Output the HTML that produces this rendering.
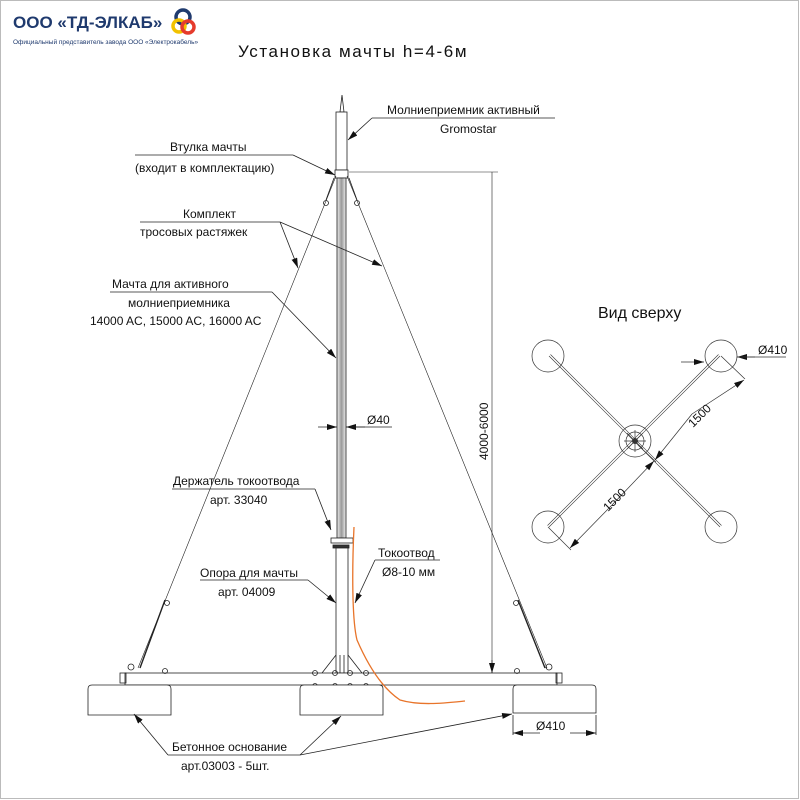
<!DOCTYPE html>
<html><head><meta charset="utf-8"><style>
html,body{margin:0;padding:0;background:#fff}
svg{display:block}
text{font-family:"Liberation Sans","Noto Sans CJK SC",sans-serif;fill:#111}
</style></head><body>
<svg width="800" height="800" viewBox="0 0 800 800" xmlns="http://www.w3.org/2000/svg">
<defs>
<marker id="a" viewBox="0 0 10 6" refX="10" refY="3" markerWidth="10" markerHeight="6" orient="auto" markerUnits="userSpaceOnUse"><path d="M0,0L10,3L0,6z" fill="#111"/></marker>
<linearGradient id="g" x1="0" x2="1"><stop offset="0" stop-color="#eee"/><stop offset=".5" stop-color="#999"/><stop offset="1" stop-color="#eee"/></linearGradient>
</defs>
<rect x="0.5" y="0.5" width="798" height="798" fill="none" stroke="#bbb"/>
<text x="13" y="28" font-size="17" font-weight="bold" style="fill:#1f3a6e">ООО «ТД-ЭЛКАБ»</text>
<text x="13" y="44" font-size="6.5" style="fill:#1f3a6e">Официальный представитель завода ООО «Электрокабель»</text>
<circle cx="183" cy="17" r="7" fill="none" stroke="#1f3a6e" stroke-width="3.5"/>
<circle cx="179" cy="26" r="6" fill="none" stroke="#f2c200" stroke-width="3.5"/>
<circle cx="188" cy="27" r="6" fill="none" stroke="#e53b2c" stroke-width="3.5"/>
<text x="238" y="57" font-size="17" letter-spacing="1.5" textLength="230">Установка мачты h=4-6м</text>
<g stroke="#222" stroke-width="0.8" fill="none">
<path d="M342,95 L340,112 L344,112 Z" fill="#fff"/>
<rect x="336" y="112" width="11" height="58" fill="#fff"/>
<rect x="335" y="170" width="13" height="8" fill="#fff"/>
<rect x="337" y="178" width="9" height="360" fill="url(#g)"/>
<rect x="331" y="538" width="22" height="5" fill="#fff"/>
<rect x="333" y="545" width="16" height="3" fill="#333"/>
<rect x="336" y="548" width="12" height="125" fill="#fff"/>
<path d="M336,655 L322,673 M348,655 L362,673 M340,655 V680 M344,655 V680"/>
<path d="M336,176 L138,668 M347,176 L547,668" stroke-width="0.6"/>
<path d="M334,178 L326,200 M349,178 L357,200"/>
<circle cx="326" cy="203" r="2.5"/><circle cx="357" cy="203" r="2.5"/>
<path d="M165,600 L140,668 M518,600 L545,668" stroke-width="1.4"/>
<circle cx="167" cy="603" r="2.5"/><circle cx="516" cy="603" r="2.5"/>
<rect x="125" y="673" width="432" height="12" fill="#fff"/>
<rect x="120" y="673" width="6" height="10"/><rect x="556" y="673" width="6" height="10"/>
<circle cx="131" cy="667" r="3"/><circle cx="549" cy="667" r="3"/>
<circle cx="165" cy="671" r="2.5"/><circle cx="517" cy="671" r="2.5"/>
<circle cx="315" cy="673" r="2.5"/><circle cx="335" cy="673" r="2.5"/><circle cx="350" cy="673" r="2.5"/><circle cx="366" cy="673" r="2.5"/>
<circle cx="315" cy="686" r="2.5"/><circle cx="335" cy="686" r="2.5"/><circle cx="350" cy="686" r="2.5"/><circle cx="366" cy="686" r="2.5"/>
<path d="M88,715 V689 Q88,685 92,685 H167 Q171,685 171,689 V715 Z" fill="#fff"/>
<path d="M300,715 V689 Q300,685 304,685 H379 Q383,685 383,689 V715 Z" fill="#fff"/>
<path d="M513,713 V689 Q513,685 517,685 H592 Q596,685 596,689 V713 Z" fill="#fff"/>
<path d="M513,715 V735 M596,715 V735"/>
<path d="M540,733 L513,733" marker-end="url(#a)"/><path d="M570,733 L596,733" marker-end="url(#a)"/>
<path d="M349,172 H498 M492,172 V673" stroke-width="0.6"/>
<path d="M492,660 V673" marker-end="url(#a)"/>
<path d="M372,118 H555"/>
<path d="M372,118 L348,140" marker-end="url(#a)"/>
<path d="M135,155 H293"/><path d="M293,155 L335,175" marker-end="url(#a)"/>
<path d="M140,222 H280"/>
<path d="M280,222 L298,268" marker-end="url(#a)"/><path d="M280,222 L382,266" marker-end="url(#a)"/>
<path d="M110,292 H272"/><path d="M272,292 L336,358" marker-end="url(#a)"/>
<path d="M318,427 H337" marker-end="url(#a)"/><path d="M365,427 H346" marker-end="url(#a)"/><path d="M346,427 H392"/>
<path d="M172,489 H315"/><path d="M315,489 L331,530" marker-end="url(#a)"/>
<path d="M200,580 H308"/><path d="M308,580 L336,603" marker-end="url(#a)"/>
<path d="M440,560 H375"/><path d="M375,560 L355,603" marker-end="url(#a)"/>
<path d="M168,755 H300"/>
<path d="M168,755 L134,714" marker-end="url(#a)"/><path d="M300,755 L341,716" marker-end="url(#a)"/><path d="M300,755 L512,714" marker-end="url(#a)"/>
</g>
<path d="M354,527 C352,570 352,620 357,640 C370,670 385,690 400,700 C420,706 445,703 465,701" stroke="#e8742a" stroke-width="1.3" fill="none"/>
<g stroke="#333" stroke-width="0.7" fill="none">
<circle cx="548" cy="356" r="16"/><circle cx="721" cy="356" r="16"/>
<circle cx="548" cy="527" r="16"/><circle cx="721" cy="527" r="16"/>
<circle cx="635" cy="441" r="16"/><circle cx="635" cy="441" r="9"/>
<path d="M549,356 L720,527 M550.5,354.5 L721.5,525.5 M549,527 L720,356 M547.5,525.5 L718.5,354.5" stroke-width="0.6"/>
<path d="M624,441 H646 M635,430 V452 M627,433 L643,449 M643,433 L627,449"/>
<path d="M681,362 H704" marker-end="url(#a)"/><path d="M755,357 H737" marker-end="url(#a)"/><path d="M737,357 H786"/>
<path d="M721,356 L745,379 M638,445 L656,462 M548,527 L571,550"/>
<path d="M692,414 L744,380" marker-end="url(#a)"/><path d="M692,414 L655,460" marker-end="url(#a)"/>
<path d="M612,505 L654,461" marker-end="url(#a)"/><path d="M612,505 L570,548" marker-end="url(#a)"/>
</g>
<circle cx="635" cy="441" r="3" fill="#333"/>
<g font-size="12">
<text x="387" y="114">Молниеприемник активный</text>
<text x="440" y="133">Gromostar</text>
<text x="170" y="151">Втулка мачты</text>
<text x="135" y="172">(входит в комплектацию)</text>
<text x="183" y="218">Комплект</text>
<text x="140" y="236">тросовых растяжек</text>
<text x="112" y="288">Мачта для активного</text>
<text x="128" y="307">молниеприемника</text>
<text x="90" y="325">14000 AC, 15000 AC, 16000 AC</text>
<text x="367" y="424">Ø40</text>
<text x="173" y="485">Держатель токоотвода</text>
<text x="210" y="504">арт. 33040</text>
<text x="200" y="577">Опора для мачты</text>
<text x="218" y="596">арт. 04009</text>
<text x="378" y="557">Токоотвод</text>
<text x="382" y="576">Ø8-10 мм</text>
<text x="536" y="730">Ø410</text>
<text x="172" y="751">Бетонное основание</text>
<text x="181" y="770">арт.03003 - 5шт.</text>
<text x="758" y="354">Ø410</text>
<text transform="translate(488,460) rotate(-90)">4000-6000</text>
<text transform="translate(693,428) rotate(-45)">1500</text>
<text transform="translate(608,512) rotate(-45)">1500</text>
</g>
<text x="598" y="318" font-size="16">Вид сверху</text>
</svg>
</body></html>
